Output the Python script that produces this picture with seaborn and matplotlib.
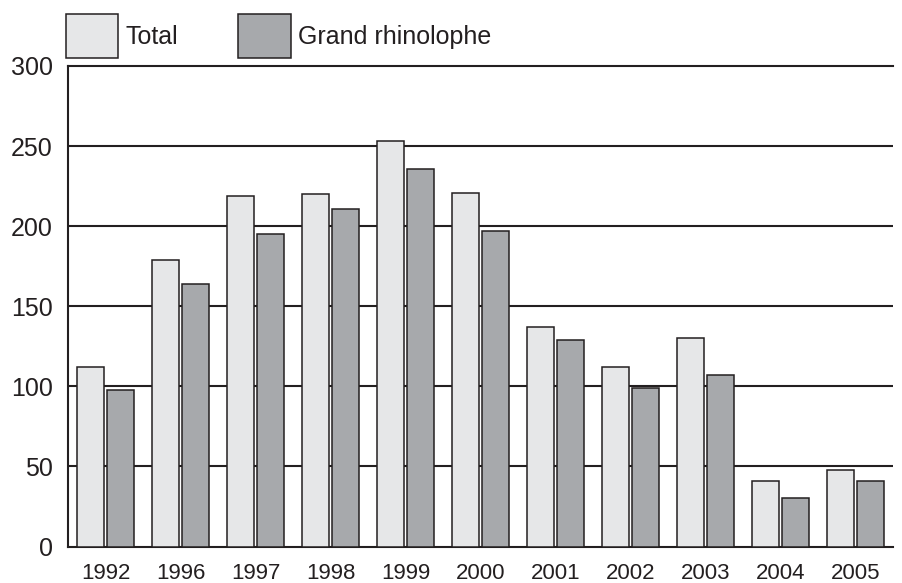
import numpy as np
import pandas as pd
import matplotlib
matplotlib.use("Agg")
import matplotlib.pyplot as plt
import seaborn as sns

years = ["1992", "1996", "1997", "1998", "1999", "2000", "2001", "2002", "2003", "2004", "2005"]
total = [112, 179, 219, 220, 253, 221, 137, 112, 130, 41, 48]
grand_rhinolophe = [98, 164, 195, 211, 236, 197, 129, 99, 107, 30, 41]
series_names = ["Total", "Grand rhinolophe"]
y_ticks = [0, 50, 100, 150, 200, 250, 300]

df = pd.DataFrame({
    "year": years * 2,
    "value": total + grand_rhinolophe,
    "series": [series_names[0]] * len(years) + [series_names[1]] * len(years),
})

sns.set_style("white")
plt.rcParams["font.family"] = ["Liberation Sans", "DejaVu Sans"]
ink = "#231f20"

fig = plt.figure(figsize=(9.02, 5.83), dpi=100)
ax = fig.add_axes([0.0754, 0.0626, 0.9146, 0.8242])

sns.barplot(data=df, x="year", y="value", hue="series", order=years,
            hue_order=series_names, palette=["#e6e7e8", "#a7a9ac"],
            width=0.8, gap=0.1, edgecolor=ink, linewidth=1.1,
            saturation=1, ax=ax, zorder=3)

ax.set_xlim(-0.5, len(years) - 0.5)
ax.set_ylim(0, 300)
ax.set_xlabel("")
ax.set_ylabel("")

# horizontal grid lines behind bars
for v in y_ticks[1:-1]:
    ax.axhline(v, color=ink, lw=1.5, zorder=1)

ax.set_yticks(y_ticks)
ax.tick_params(axis="y", length=0, pad=11, labelsize=18, labelcolor=ink)

# ticks at group boundaries, labels centred on groups
ax.set_xticks(np.arange(-0.5, len(years)), labels=[""] * (len(years) + 1))
ax.set_xticks(range(len(years)), labels=years, minor=True)
ax.tick_params(axis="x", which="major", direction="in", length=8, width=1.3, color=ink)
ax.tick_params(axis="x", which="minor", length=0, pad=12, labelsize=16, labelcolor=ink)

for side in ["left", "bottom", "top"]:
    ax.spines[side].set_color(ink)
    ax.spines[side].set_linewidth(1.5)
ax.spines["right"].set_visible(False)

ax.legend(loc="lower left", bbox_to_anchor=(-0.012, 1.0), ncol=2, frameon=False,
          fontsize=18, handlelength=2.1, handleheight=2.35, handletextpad=0.3,
          columnspacing=2.4, borderaxespad=0.1, borderpad=0.2,
          labelcolor=ink)

fig.savefig("out.png", dpi=100)
